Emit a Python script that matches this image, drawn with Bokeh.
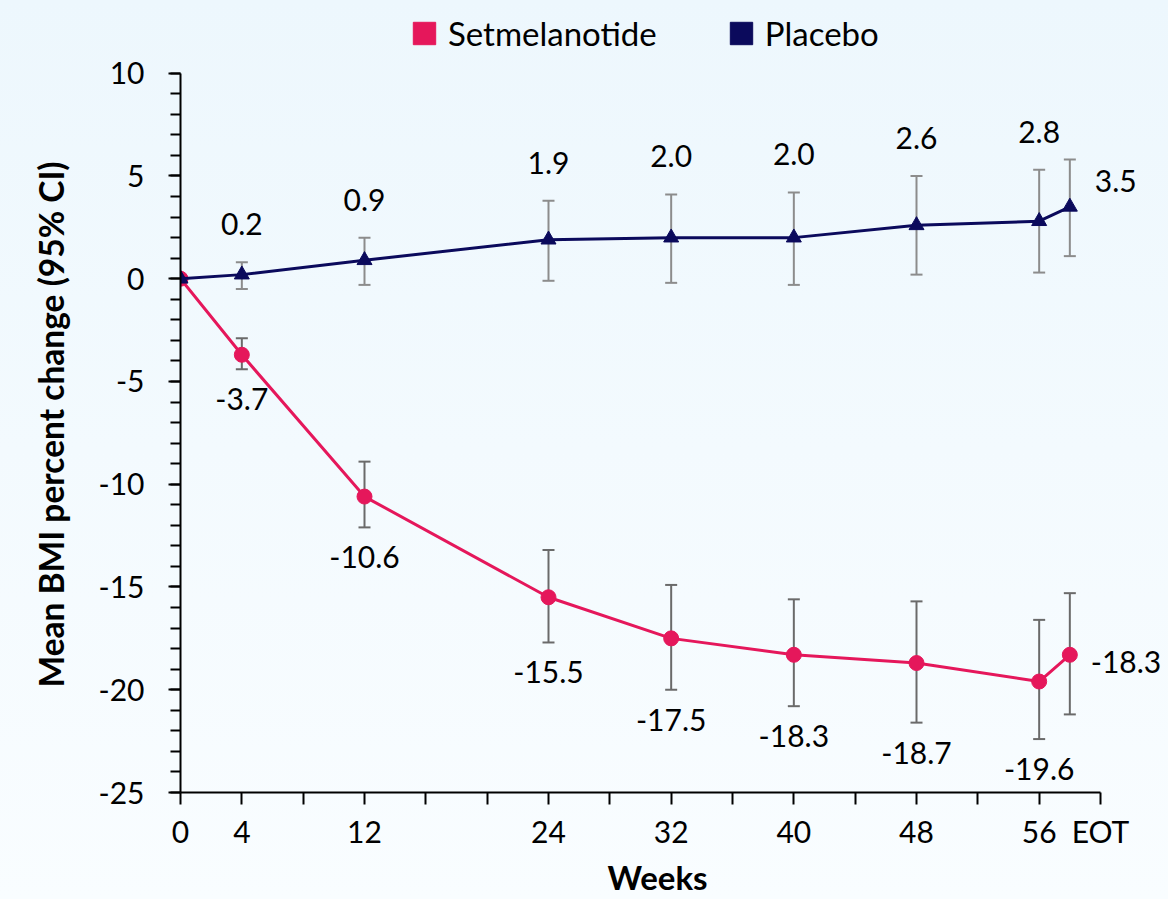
from bokeh.plotting import figure
from bokeh.models import (ColumnDataSource, Range1d, FixedTicker, Whisker, TeeHead, LabelSet,
                          Legend, LegendItem, Title, InlineStyleSheet)
from bokeh.core.properties import value
from bokeh.embed import file_html
from bokeh.resources import INLINE

# ---------------- data ----------------
weeks = [0, 4, 12, 24, 32, 40, 48, 56, 58]          # 58 = end of treatment (EOT)
setmel_mean = [0.0, -3.7, -10.6, -15.5, -17.5, -18.3, -18.7, -19.6, -18.3]
setmel_lower = [0.0, -4.4, -12.1, -17.7, -20.0, -20.8, -21.6, -22.4, -21.2]
setmel_upper = [0.0, -2.9, -8.9, -13.2, -14.9, -15.6, -15.7, -16.6, -15.3]
placebo_mean = [0.0, 0.2, 0.9, 1.9, 2.0, 2.0, 2.6, 2.8, 3.5]
placebo_lower = [0.0, -0.5, -0.3, -0.1, -0.2, -0.3, 0.2, 0.3, 1.1]
placebo_upper = [0.0, 0.8, 2.0, 3.8, 4.1, 4.2, 5.0, 5.3, 5.8]

x_tick_values = [0, 4, 8, 12, 16, 20, 24, 28, 32, 36, 40, 44, 48, 52, 56, 60]
x_tick_labels = ["0", "4", "", "12", "", "", "24", "", "32", "", "40", "", "48", "", "56", "EOT"]
y_tick_values = [-25, -20, -15, -10, -5, 0, 5, 10]
y_tick_labels = ["-25", "-20", "-15", "-10", "-5", "0", "5", "10"]
y_minor_values = list(range(-25, 11))

series_names = ["Setmelanotide", "Placebo"]

# ---------------- style / layout ----------------
FONT = "Lato"
PINK = "#E5175B"
NAVY = "#0B0A5C"
GRAY_S = "#6A6A6A"
GRAY_P = "#8C8C8C"
W, H = 1168, 899
LEFT, BOTTOM = 180, 104
AX_TOP_PX, AX_RIGHT_PX = 73, 1100          # where the drawn axes end
X_MIN, X_MAX = 0, 60
Y_MIN, Y_MAX = -25, 10

frame_w = W - LEFT
frame_h = H - BOTTOM
x_end = X_MIN + (X_MAX - X_MIN) * frame_w / (AX_RIGHT_PX - LEFT)
y_end = Y_MIN + (Y_MAX - Y_MIN) * frame_h / (frame_h - AX_TOP_PX)

p = figure(width=W, height=H, output_backend="svg", toolbar_location=None,
           x_range=Range1d(X_MIN, x_end), y_range=Range1d(Y_MIN, y_end),
           min_border_left=LEFT, min_border_right=0, min_border_top=0, min_border_bottom=BOTTOM)
p.background_fill_alpha = 0
p.border_fill_alpha = 0
p.stylesheets = [InlineStyleSheet(css=":host { background: linear-gradient(#EDF7FD, #F9FDFF); }")]
p.outline_line_color = None
p.xgrid.visible = False
p.ygrid.visible = False

# axes
for ax in (p.xaxis[0], p.yaxis[0]):
    ax.axis_line_color = "black"
    ax.axis_line_width = 2
    ax.major_tick_line_color = "black"
    ax.major_tick_line_width = 2
    ax.major_tick_in = 0
    ax.major_tick_out = 12
    ax.major_label_text_font = FONT
    ax.major_label_text_font_size = "30px"
    ax.major_label_text_color = "black"

p.xaxis.bounds = (X_MIN, X_MAX)
p.xaxis.ticker = FixedTicker(ticks=x_tick_values)
p.xaxis.major_label_overrides = dict(zip(x_tick_values, x_tick_labels))
p.xaxis.minor_tick_line_color = None
p.xaxis.major_label_standoff = 8

p.yaxis.bounds = (Y_MIN, Y_MAX)
p.yaxis.ticker = FixedTicker(ticks=y_tick_values, minor_ticks=y_minor_values)
p.yaxis.major_label_overrides = dict(zip(y_tick_values, y_tick_labels))
p.yaxis.minor_tick_line_color = "black"
p.yaxis.minor_tick_line_width = 2
p.yaxis.minor_tick_in = 0
p.yaxis.minor_tick_out = 10
p.yaxis.major_label_standoff = 24

# axis titles
p.add_layout(Title(text="Mean BMI percent change (95% CI)", align="left", offset=105, standoff=50,
                   text_font=FONT, text_font_size="33.5px", text_font_style="bold",
                   text_color="black"), "left")
p.add_layout(Title(text="Weeks", align="left", offset=427, standoff=6,
                   text_font=FONT, text_font_size="33px", text_font_style="bold",
                   text_color="black"), "below")

# ---------------- sources ----------------
def make(mean, lo, hi):
    return dict(x=list(weeks), y=list(mean), lo=list(lo), hi=list(hi),
                lab=["%.1f" % v for v in mean])

raw_s = make(setmel_mean, setmel_lower, setmel_upper)
raw_p = make(placebo_mean, placebo_lower, placebo_upper)

def rows(d, sl):
    return ColumnDataSource({k: v[sl] for k, v in d.items()})

n = len(weeks)
src_s = rows(raw_s, slice(0, n))
src_p = rows(raw_p, slice(0, n))
err_s = rows(raw_s, slice(1, n))
err_p = rows(raw_p, slice(1, n))
mid_s = rows(raw_s, slice(1, n - 1))
mid_p = rows(raw_p, slice(1, n - 1))
eot_s = rows(raw_s, slice(n - 1, n))
eot_p = rows(raw_p, slice(n - 1, n))

# error bars (beneath lines / markers)
for src, col in ((err_s, GRAY_S), (err_p, GRAY_P)):
    w = Whisker(source=src, base="x", upper="hi", lower="lo", dimension="height", level="underlay",
                line_color=col, line_width=2,
                upper_head=TeeHead(size=12, line_color=col, line_width=2),
                lower_head=TeeHead(size=12, line_color=col, line_width=2))
    p.add_layout(w)

# series
p.line("x", "y", source=src_s, line_color=PINK, line_width=3)
p.scatter("x", "y", source=src_s, marker="circle", size=15, fill_color=PINK, line_color=PINK)
p.line("x", "y", source=src_p, line_color=NAVY, line_width=3)
p.scatter("x", "y", source=src_p, marker="triangle", size=15, fill_color=NAVY, line_color=NAVY)

# data labels
lab_kw = dict(text="lab", text_font=value(FONT), text_font_size=value("30px"),
              text_color=value("black"), text_baseline=value("middle"))
p.add_layout(LabelSet(source=mid_p, x="x", y="hi", y_offset=38, text_align=value("center"), **lab_kw))
p.add_layout(LabelSet(source=mid_s, x="x", y="lo", y_offset=-30, text_align=value("center"), **lab_kw))
p.add_layout(LabelSet(source=eot_p, x="x", y="y", x_offset=25, y_offset=26, text_align=value("left"), **lab_kw))
p.add_layout(LabelSet(source=eot_s, x="x", y="y", x_offset=21, y_offset=-7, text_align=value("left"), **lab_kw))

# legend (square swatches, taken from hidden block renderers of each series)
leg_s = p.block("x", "y", width=0, height=0, source=src_s, fill_color=PINK, line_color=PINK, visible=False)
leg_p = p.block("x", "y", width=0, height=0, source=src_p, fill_color=NAVY, line_color=NAVY, visible=False)
legend = Legend(items=[LegendItem(label=series_names[0], renderers=[leg_s], index=0),
                       LegendItem(label=series_names[1], renderers=[leg_p], index=0)],
                orientation="horizontal", location=(225, frame_h - 61),
                glyph_width=28, glyph_height=28, label_standoff=10, spacing=70,
                padding=5, margin=0, border_line_alpha=0, background_fill_alpha=0,
                label_text_font=FONT, label_text_font_size="33px", label_text_color="black")
p.add_layout(legend, "center")

open("out.html", "w").write(file_html(p, INLINE))
